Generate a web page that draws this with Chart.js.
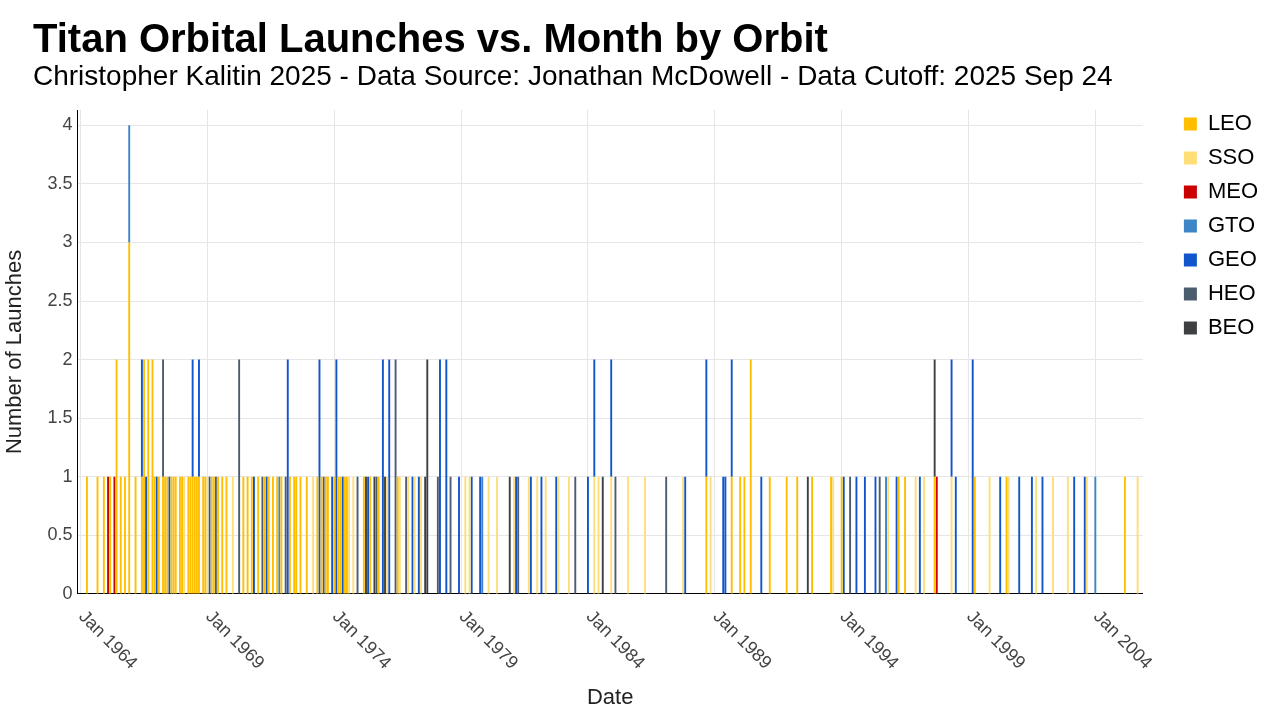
<!DOCTYPE html>
<html><head><meta charset="utf-8">
<script src="https://cdn.jsdelivr.net/npm/chart.js@4.4.0/dist/chart.umd.min.js"></script>
<style>
html,body{margin:0;padding:0;background:#fff;}
#wrap{position:relative;width:1280px;height:720px;overflow:hidden;}
canvas{position:absolute;left:0;top:0;}
#title{position:absolute;left:33px;top:18px;margin:0;font:bold 40px/1 "Liberation Sans",Arial,sans-serif;color:#000;white-space:nowrap;}
#subtitle{position:absolute;left:33px;top:62px;margin:0;font:28px/1 "Liberation Sans",Arial,sans-serif;color:#000;white-space:nowrap;}
</style></head>
<body><div id="wrap">
<canvas id="c" width="1280" height="720"></canvas>
<div id="title">Titan Orbital Launches vs. Month by Orbit</div>
<div id="subtitle">Christopher Kalitin 2025 - Data Source: Jonathan McDowell - Data Cutoff: 2025 Sep 24</div>
</div>
<script>
// ---- Data (launches per month, by orbit) ----
const firstMonth = "1963-12";
const lastMonth = "2005-11";
const tickYears = [1964, 1969, 1974, 1979, 1984, 1989, 1994, 1999, 2004];
const yTicks = [0, 0.5, 1, 1.5, 2, 2.5, 3, 3.5, 4];

const LEO = [["1964-04",1],["1964-09",1],["1964-12",1],["1965-03",1],["1965-06",2],["1965-08",1],["1965-10",1],["1965-12",3],
["1966-03",1],["1966-06",1],["1966-07",2],["1966-09",2],["1966-11",2],["1966-12",1],["1967-02",1],["1967-04",1],["1967-05",1],
["1967-06",1],["1967-08",1],["1967-09",1],["1967-10",1],["1967-12",1],["1968-01",1],["1968-04",1],["1968-05",1],["1968-06",1],
["1968-07",1],["1968-08",1],["1968-09",1],["1968-11",1],["1968-12",1],["1969-03",1],["1969-04",1],["1969-06",1],["1969-08",1],
["1969-10",1],["1970-06",1],["1970-08",1],["1970-10",1],["1971-01",1],["1971-04",1],["1971-06",1],["1971-08",1],["1971-10",1],
["1971-12",1],["1972-04",1],["1972-06",1],["1972-07",1],["1972-09",1],["1972-12",1],["1973-05",1],["1973-07",1],["1973-09",1],
["1973-10",1],["1974-01",1],["1974-03",1],["1974-04",1],["1974-06",1],["1974-07",1],["1975-03",1],["1975-06",1],["1975-10",1],
["1976-07",1],["1988-09",1],["1989-09",1],["1990-01",1],["1990-03",1],["1990-06",2],["1991-03",1],["1991-11",1],["1992-04",1],
["1992-11",1],["1993-08",1],["1994-01",1],["1996-04",1],["1996-07",1],["1997-09",1],["1999-04",1],["2000-07",1],["2005-03",1]];

const SSO = [["1968-02",1],["1969-01",1],["1970-01",1],["1973-03",1],["1974-08",1],["1974-10",1],["1976-02",1],["1976-08",1],
["1976-12",1],["1977-03",1],["1977-06",1],["1979-03",1],["1979-05",1],["1980-02",1],["1980-06",1],["1981-02",1],["1981-09",1],
["1982-01",1],["1982-05",1],["1982-11",1],["1983-04",1],["1984-04",1],["1984-06",1],["1984-12",1],["1985-08",1],["1986-04",1],
["1987-10",1],["1988-11",1],["1993-09",1],["1995-11",1],["1996-12",1],["1997-04",1],["1998-05",1],["1999-11",1],["2000-08",1],
["2001-09",1],["2002-05",1],["2002-12",1],["2003-09",1],["2005-09",1]];

const MEO = [["1965-02",1],["1965-05",1],["1997-10",1]];

const GTO = [["1965-12",1],["1971-11",1],["1979-11",1],["1995-10",1],["2004-01",1]];

const GEO = [["1966-06",1],["1966-08",1],["1967-01",1],["1967-07",1],["1968-06",1],["1968-09",1],["1969-02",1],["1970-11",1],
["1971-05",1],["1972-03",2],["1973-06",2],["1973-12",1],["1974-02",2],["1974-05",1],["1975-05",1],["1975-12",2],["1976-03",2],
["1977-02",1],["1977-05",1],["1978-03",2],["1978-06",2],["1978-12",1],["1979-06",1],["1979-10",1],["1981-03",1],["1981-10",1],
["1982-03",1],["1982-10",1],["1984-01",1],["1984-04",1],["1984-12",1],["1987-11",1],["1988-09",1],["1989-05",1],["1989-06",1],
["1989-09",1],["1990-11",1],["1994-02",1],["1994-08",1],["1994-12",1],["1995-05",1],["1996-03",1],["1997-02",1],["1998-05",1],
["1998-07",1],["1999-03",2],["2000-04",1],["2001-01",1],["2001-07",1],["2001-12",1],["2003-03",1],["2003-08",1]];

const HEO = [["1967-04",1],["1969-05",1],["1970-04",2],["1971-03",1],["1972-02",1],["1973-08",1],["1974-12",1],["1975-09",1],
["1976-06",2],["1976-11",1],["1978-02",1],["1978-08",1],["1981-04",1],["1983-07",1],["1985-02",1],["1987-02",1],["1994-05",1],
["1995-07",1]];

const BEO = [["1975-04",1],["1975-08",1],["1976-01",1],["1977-08",1],["1977-09",2],["1980-12",1],["1984-08",1],["1992-09",1],
["1997-09",1]];

const orbitNames = ["LEO","SSO","MEO","GTO","GEO","HEO","BEO"];
const orbitColors = ["#FFBF00","#FFDD77","#CC0000","#3D85C6","#1155CC","#4C5D70","#3C4043"];
const orbitSeries = [LEO, SSO, MEO, GTO, GEO, HEO, BEO];

// ---- build month categories ----
const categories = [];
{
  let [y, m] = firstMonth.split("-").map(Number);
  const [ey, em] = lastMonth.split("-").map(Number);
  while (y < ey || (y === ey && m <= em)) {
    categories.push(y + "-" + String(m).padStart(2, "0"));
    m++; if (m > 12) { m = 1; y++; }
  }
}
function toSeries(pairs) {
  const map = new Map(pairs);
  return categories.map(c => map.has(c) ? map.get(c) : null);
}

const FONT = '"Liberation Sans", Arial, sans-serif';

// legend offset (plot-to-legend gap, vertical alignment)
const legendShift = {
  id: 'legendShift',
  beforeInit(chart) {
    const lg = chart.legend;
    if (!lg) return;
    const draw = lg.draw;
    lg.draw = function () {
      const l = this.left, r = this.right, t = this.top;
      this.left = l + 29; this.right = r + 29; this.top = t - 9;
      draw.apply(this, arguments);
      this.left = l; this.right = r; this.top = t;
    };
  }
};

// x tick labels rotated clockwise (drawn at the scale's own tick positions)
const xTickLabels = {
  id: 'xTickLabels',
  afterDraw(chart) {
    const s = chart.scales.x, ctx = chart.ctx;
    ctx.save();
    ctx.font = '18px ' + FONT;
    ctx.fillStyle = '#444';
    ctx.textAlign = 'left';
    ctx.textBaseline = 'middle';
    s.ticks.forEach((t, i) => {
      if (t.label == null || t.label === '') return;
      const x = s.getPixelForTick(i);
      ctx.save();
      ctx.translate(x + 1, s.top + 20);
      ctx.rotate(Math.PI / 4);
      ctx.fillText(t.label, 0, 0);
      ctx.restore();
    });
    ctx.restore();
  }
};

new Chart(document.getElementById('c'), {
  type: 'bar',
  data: {
    labels: categories,
    datasets: orbitNames.map((n, i) => ({
      label: n,
      data: toSeries(orbitSeries[i]),
      backgroundColor: orbitColors[i],
      borderWidth: 0,
      barPercentage: 1,
      categoryPercentage: 0.9
    }))
  },
  options: {
    responsive: false,
    animation: false,
    layout: { padding: { top: 110, left: 0, right: 41, bottom: 5 } },
    plugins: {
      title: { display: false },
      tooltip: { enabled: false },
      legend: {
        position: 'right',
        align: 'start',
        labels: {
          boxWidth: 13, boxHeight: 13, padding: 12,
          color: '#000',
          font: { family: FONT, size: 22 }
        }
      }
    },
    scales: {
      x: {
        stacked: true,
        offset: true,
        grid: { display: true, offset: false, color: '#e6e6e6', drawTicks: false },
        border: { display: true, color: '#000', width: 1 },
        ticks: {
          autoSkip: false,
          minRotation: 45, maxRotation: 45,
          padding: 3,
          color: 'rgba(0,0,0,0)',
          font: { family: FONT, size: 18 },
          callback: function (value) {
            const c = this.getLabelForValue(value);
            const [y, m] = c.split("-").map(Number);
            if (m === 1 && tickYears.includes(y)) return "Jan " + y;
            return null;
          }
        },
        title: {
          display: true, text: 'Date', color: '#222',
          font: { family: FONT, size: 22 },
          padding: { top: 17, bottom: 4 }
        }
      },
      y: {
        stacked: true,
        min: 0, max: 4.13,
        afterBuildTicks: (scale) => { scale.ticks = yTicks.map(v => ({ value: v })); },
        grid: { color: '#e6e6e6', drawTicks: false },
        border: { display: true, color: '#000', width: 1 },
        ticks: {
          padding: 5, color: '#444',
          font: { family: FONT, size: 18 },
          callback: (v) => String(v)
        },
        title: {
          display: true, text: 'Number of Launches', color: '#222',
          font: { family: FONT, size: 22 },
          padding: { top: 2, bottom: 14 }
        }
      }
    }
  },
  plugins: [legendShift, xTickLabels]
});
</script>
</body></html>
